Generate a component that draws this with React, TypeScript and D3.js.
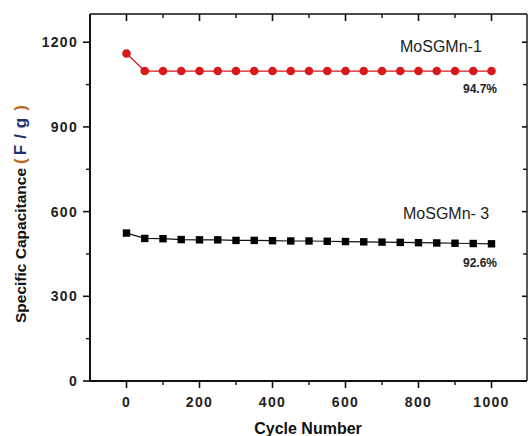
import React from "react";
import * as d3 from "d3";

const cycles = [0, 50, 100, 150, 200, 250, 300, 350, 400, 450, 500, 550, 600, 650, 700, 750, 800, 850, 900, 950, 1000];
const mosgmn1 = [1160, 1098, 1098, 1098, 1098, 1098, 1098, 1098, 1098, 1098, 1098, 1098, 1098, 1098, 1098, 1098, 1098, 1098, 1098, 1098, 1098];
const mosgmn3 = [524, 505, 504, 501, 500, 500, 498, 498, 497, 496, 496, 495, 494, 493, 492, 491, 490, 489, 488, 487, 486];
const xTicks = [0, 200, 400, 600, 800, 1000];
const xMinor = [-100, 100, 300, 500, 700, 900, 1100];
const yTicks = [0, 300, 600, 900, 1200];
const yMinor = [150, 450, 750, 1050];

const W = 528, H = 436;
const L = 90, R = 528, T = 14, B = 381;

export default function App() {
  const x = d3.scaleLinear().domain([-100, 1100]).range([L, R]);
  const y = d3.scaleLinear().domain([0, 1300]).range([B, T]);
  const line = d3.line<number>().x((_, i) => x(cycles[i])).y((d) => y(d));
  const font = "'Liberation Sans', Arial, sans-serif";
  const red = "#d7191c";
  const right = 527;

  return (
    <svg width={W} height={H} style={{ position: "absolute", left: 0, top: 0, background: "#fff" }} fontFamily={font}>
      {/* data */}
      <path d={line(mosgmn1) || ""} fill="none" stroke={red} strokeWidth={1.2} />
      {mosgmn1.map((v, i) => (
        <circle key={"r" + i} cx={x(cycles[i])} cy={y(v)} r={4.3} fill={red} />
      ))}
      <path d={line(mosgmn3) || ""} fill="none" stroke="#111" strokeWidth={1.2} />
      {mosgmn3.map((v, i) => (
        <rect key={"b" + i} x={x(cycles[i]) - 3.7} y={y(v) - 3.7} width={7.4} height={7.4} fill="#000" />
      ))}

      {/* frame */}
      <line x1={L} x2={right} y1={T} y2={T} stroke="#111" strokeWidth={1.6} />
      <line x1={right} x2={right} y1={T} y2={B} stroke="#111" strokeWidth={1.4} />
      <line x1={L} x2={L} y1={T} y2={B + 1} stroke="#111" strokeWidth={2} />
      <line x1={L - 1} x2={right} y1={B} y2={B} stroke="#111" strokeWidth={2} />

      {/* x ticks */}
      {xTicks.map((t) => (
        <g key={"xt" + t}>
          <line x1={x(t)} x2={x(t)} y1={B} y2={B + 7} stroke="#111" strokeWidth={1.6} />
          <line x1={x(t)} x2={x(t)} y1={T} y2={T + 7} stroke="#111" strokeWidth={1.6} />
          <text x={x(t)} y={407} textAnchor="middle" fontSize={14} fontWeight="bold" letterSpacing={1.3} fill="#222">
            {t}
          </text>
        </g>
      ))}
      {xMinor.filter((t) => t > -100 && t < 1100).map((t) => (
        <g key={"xm" + t}>
          <line x1={x(t)} x2={x(t)} y1={B} y2={B + 4} stroke="#111" strokeWidth={1.4} />
          <line x1={x(t)} x2={x(t)} y1={T} y2={T + 4} stroke="#111" strokeWidth={1.4} />
        </g>
      ))}

      {/* y ticks */}
      {yTicks.map((t) => (
        <g key={"yt" + t}>
          <line x1={L - 7} x2={L} y1={y(t)} y2={y(t)} stroke="#111" strokeWidth={1.6} />
          {t > 0 && <line x1={right - 5} x2={right} y1={y(t)} y2={y(t)} stroke="#111" strokeWidth={1.6} />}
          <text x={78} y={y(t) + 5} textAnchor="end" fontSize={14} fontWeight="bold" letterSpacing={1.3} fill="#222">
            {t}
          </text>
        </g>
      ))}
      {yMinor.map((t) => (
        <g key={"ym" + t}>
          <line x1={L - 4} x2={L} y1={y(t)} y2={y(t)} stroke="#111" strokeWidth={1.4} />
          <line x1={right - 4} x2={right} y1={y(t)} y2={y(t)} stroke="#111" strokeWidth={1.4} />
        </g>
      ))}

      {/* annotations */}
      <text x={400} y={52} fontSize={16} fill="#222">MoSGMn-1</text>
      <text x={497} y={93} textAnchor="end" fontSize={12} fontWeight="bold" fill="#222">94.7%</text>
      <text x={403} y={219} fontSize={16} fill="#222">MoSGMn- 3</text>
      <text x={497} y={267} textAnchor="end" fontSize={12} fontWeight="bold" fill="#222">92.6%</text>

      {/* axis labels */}
      <text x={308} y={434} textAnchor="middle" fontSize={16} fontWeight="bold" fill="#111">Cycle Number</text>
      <text transform="translate(26,323) rotate(-90)" textAnchor="start" fontSize={15.5} fontWeight="bold" fill="#111">
        Specific Capacitance
        <tspan dx={4} fill="#b86a1a" fontSize={17}>(</tspan>
        <tspan dx={3} fill="#1c2f6e" fontSize={17} letterSpacing={6}>F/g</tspan>
        <tspan dx={1} fill="#b86a1a" fontSize={17}>)</tspan>
      </text>
    </svg>
  );
}
